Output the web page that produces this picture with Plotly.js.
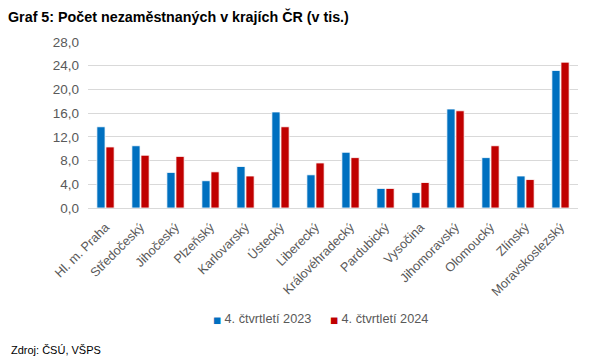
<!DOCTYPE html>
<html>
<head>
<meta charset="utf-8">
<script src="https://cdn.plot.ly/plotly-3.0.1.min.js"></script>
<style>html,body{margin:0;padding:0;background:#fff;}#chart{width:595px;height:361px;}</style>
</head>
<body>
<div id="chart"></div>
<script>
const categories = ["Hl. m. Praha","Středočeský","Jihočeský","Plzeňský","Karlovarský","Ústecký","Liberecký","Královéhradecký","Pardubický","Vysočina","Jihomoravský","Olomoucký","Zlínský","Moravskoslezský"];
const series2023 = [13.7,10.5,6.0,4.6,7.0,16.2,5.6,9.4,3.3,2.6,16.7,8.5,5.4,23.2];
const series2024 = [10.3,8.9,8.7,6.1,5.4,13.7,7.6,8.5,3.3,4.3,16.4,10.5,4.8,24.6];
const seriesNames = ["4. čtvrtletí 2023","4. čtvrtletí 2024"];
const seriesColors = ["#0070C0","#C00000"];
const yTicks = [0,4,8,12,16,20,24,28];

const font = "Liberation Sans, Arial, sans-serif";
const gray = "#595959";

const traces = [
  {type:"bar", name:seriesNames[0], x:categories, y:series2023,
   marker:{color:seriesColors[0], line:{color:"#ffffff", width:0.8}}},
  {type:"bar", name:seriesNames[1], x:categories, y:series2024,
   marker:{color:seriesColors[1], line:{color:"#ffffff", width:0.8}}}
];

const px = v => (v-88)/490;
const py = v => -(v-208)/166;

function legendText(i){
  return '<span style="color:'+seriesColors[i]+';font-family:DejaVu Sans;font-size:8.5px">■</span> '+seriesNames[i];
}

const layout = {
  width:595, height:361,
  margin:{l:88, r:17, t:42, b:153},
  paper_bgcolor:"#fff", plot_bgcolor:"#fff",
  separators:", ",
  font:{family:font, size:12, color:gray},
  title:{text:"<b>Graf 5: Počet nezaměstnaných v krajích ČR (v tis.)</b>",
         x:8/595, xanchor:"left", xref:"container",
         y:1-17/361, yanchor:"middle", yref:"container",
         font:{family:font, size:14.3, color:"#000"}},
  barmode:"group", bargap:0.48, bargroupgap:0.1,
  showlegend:false,
  xaxis:{type:"category", tickangle:-45, tickfont:{family:font, size:12.7, color:gray},
         showline:true, linecolor:"#D9D9D9", linewidth:1, ticks:"", showgrid:false,
         ticklabelstandoff:6, automargin:false},
  yaxis:{range:[0,28], tickvals:yTicks, tickformat:".1f", showgrid:true, gridcolor:"#D9D9D9",
         gridwidth:1, zeroline:false, showline:false, ticks:"", ticklen:0,
         ticklabelstandoff:8,
         tickfont:{family:font, size:13.5, color:gray}, automargin:false},
  annotations:[
    {text:legendText(0), xref:"paper", yref:"paper", x:px(211), xanchor:"left",
     y:py(319), yanchor:"middle", showarrow:false, font:{family:font, size:12.7, color:gray}},
    {text:legendText(1), xref:"paper", yref:"paper", x:px(328), xanchor:"left",
     y:py(319), yanchor:"middle", showarrow:false, font:{family:font, size:12.7, color:gray}},
    {text:"Zdroj: ČSÚ, VŠPS", xref:"paper", yref:"paper",
     x:px(9), xanchor:"left", y:py(350), yanchor:"middle",
     showarrow:false, font:{family:font, size:11, color:"#000"}}
  ]
};

Plotly.newPlot("chart", traces, layout, {displayModeBar:false, staticPlot:true});
</script>
</body>
</html>
